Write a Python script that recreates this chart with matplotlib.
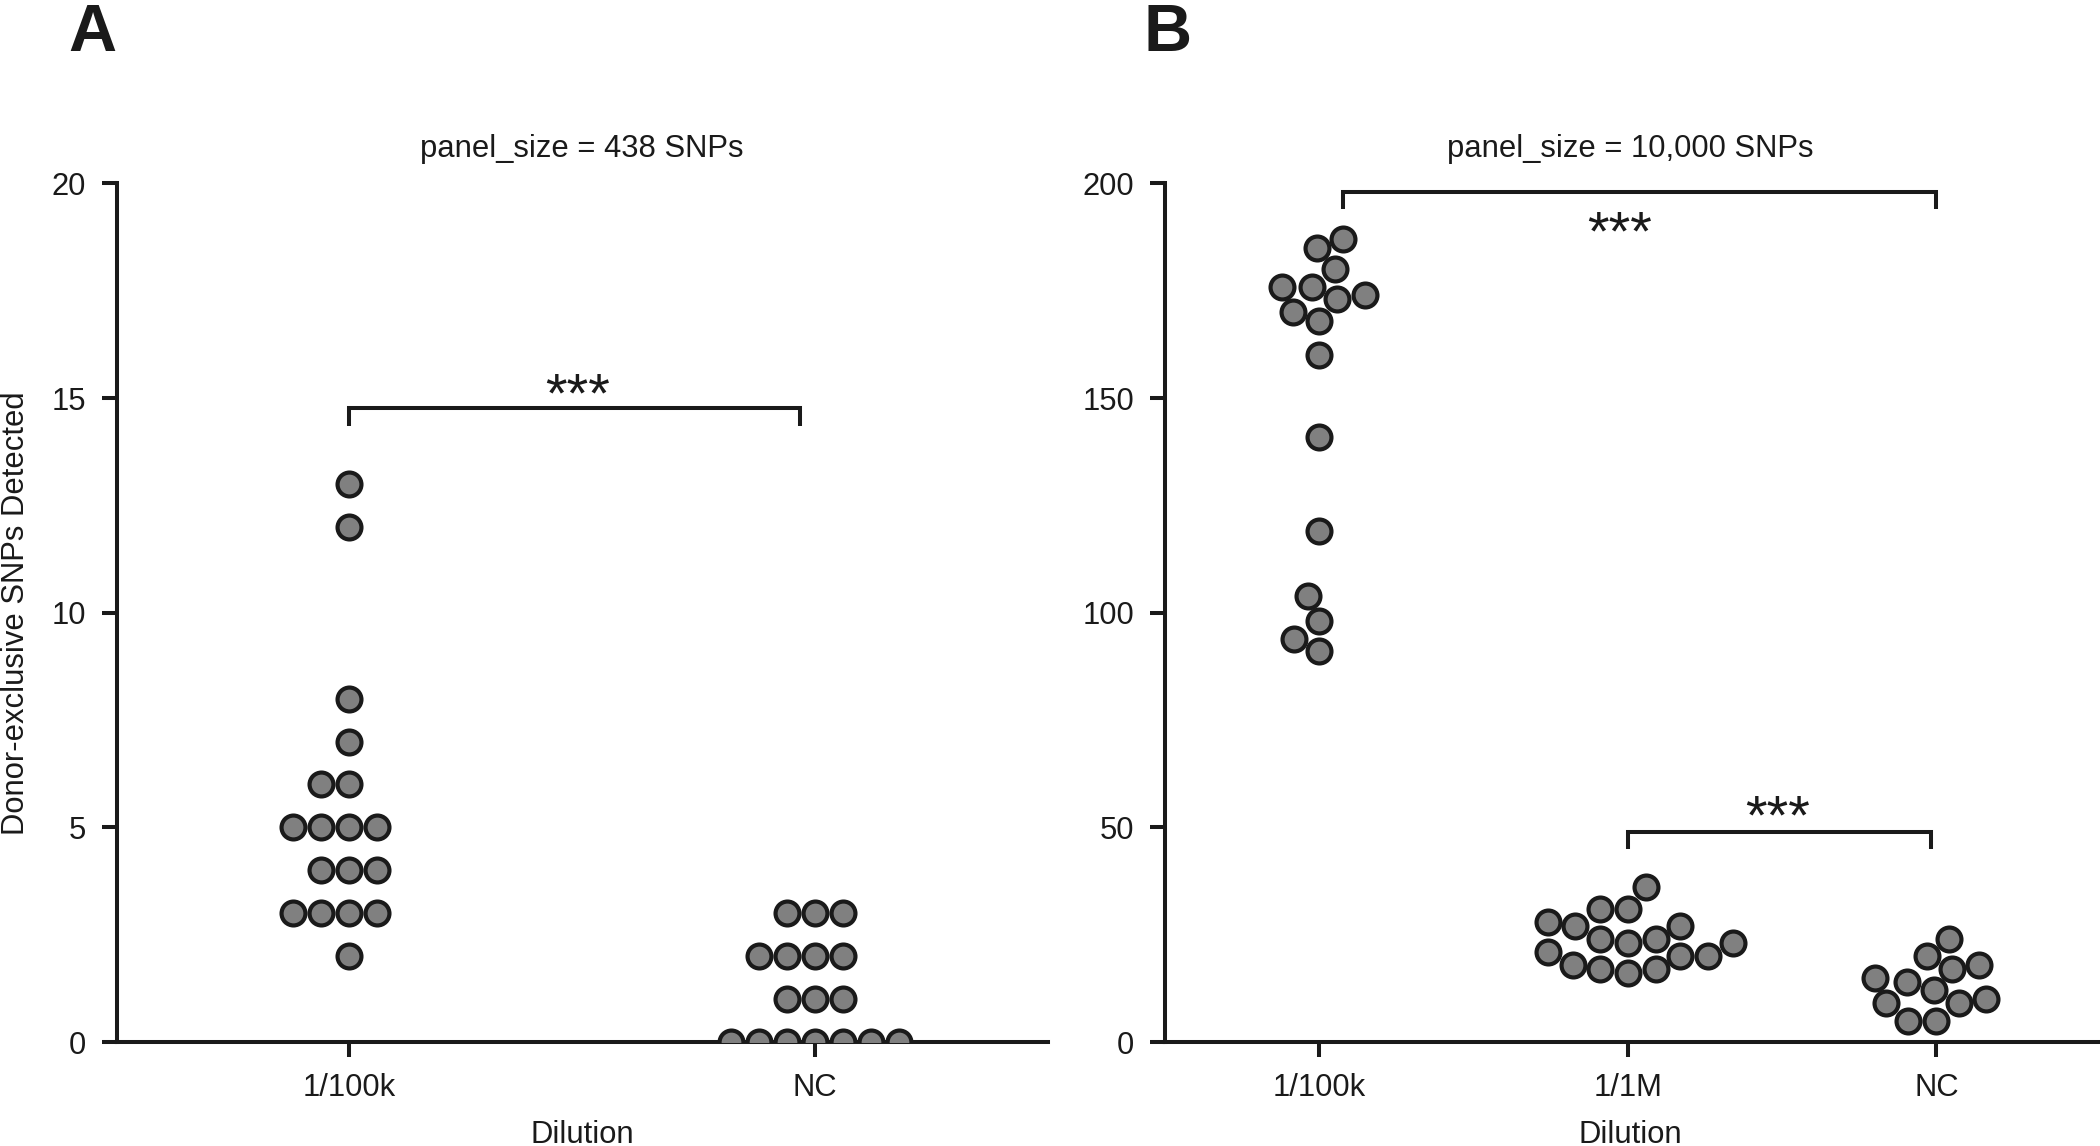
import numpy as np
import matplotlib.pyplot as plt

plt.rcParams['font.family'] = ['Liberation Sans', 'DejaVu Sans']

# Datos panel A (438 SNPs)
dilucionA = ["1/100k", "NC"]
snpsA_100k = [13, 12, 8, 7, 6, 6, 5, 5, 5, 5, 4, 4, 4, 3, 3, 3, 3, 2]
snpsA_nc = [3, 3, 3, 2, 2, 2, 2, 1, 1, 1, 0, 0, 0, 0, 0, 0, 0]

# Datos panel B (10,000 SNPs)
dilucionB = ["1/100k", "1/1M", "NC"]
snpsB_100k = [187, 185, 180, 176, 176, 174, 173, 170, 168, 160, 141, 119, 104, 98, 94, 91]
snpsB_1m = [36, 31, 31, 28, 27, 27, 24, 24, 23, 23, 21, 20, 20, 18, 17, 17, 16]
snpsB_nc = [24, 20, 18, 17, 15, 14, 12, 10, 9, 9, 5, 5]

TXT = '#1a1a1a'
FS = 22.3
DIAM = 28.0  # espaciado del enjambre en pixeles


def swarm_x(ax, pos, values):
    # algoritmo tipo beeswarm "swarm", prioridad ascendente
    vals = np.asarray(values, dtype=float)
    ypx = ax.transData.transform(np.column_stack([np.full(len(vals), pos), vals]))[:, 1] / DIAM
    xunit = ax.transData.transform((pos + 1, 0))[0] - ax.transData.transform((pos, 0))[0]
    order = np.argsort(vals, kind='stable')
    off = np.zeros(len(vals))
    placed = []
    for i in order:
        yi = ypx[i]
        near = [j for j in placed if abs(yi - ypx[j]) < 1]
        if near:
            py = ypx[near]
            po = off[near]
            d = np.sqrt(1 - (yi - py) ** 2)
            cand = np.concatenate([[0.0], po + d, po - d])
            best = None
            for c in cand:
                if np.any((yi - py) ** 2 + (c - po) ** 2 < 0.999):
                    continue
                if best is None or abs(c) < abs(best):
                    best = c
            off[i] = best
        placed.append(i)
    return pos - off * DIAM / xunit


def puntos(ax, pos, values):
    xs = swarm_x(ax, pos, values)
    ax.scatter(xs, values, s=17.2 ** 2, c='#808080', edgecolors='#1a1a1a',
               linewidths=3.0, zorder=3)


def estilo(ax):
    for s in ['top', 'right']:
        ax.spines[s].set_visible(False)
    for s in ['left', 'bottom']:
        ax.spines[s].set_linewidth(2.9)
        ax.spines[s].set_color(TXT)
    ax.tick_params(length=11, width=2.9, pad=11, labelsize=FS, color=TXT, labelcolor=TXT)


def corchete(ax, x1, x2, y, ytip):
    ax.plot([x1, x1, x2, x2], [ytip, y, y, ytip], color=TXT, lw=2.9,
            solid_capstyle='butt', solid_joinstyle='miter', clip_on=False)


fig = plt.figure(figsize=(21, 11.46), dpi=100)
axA = fig.add_axes([0.05548, 0.09075, 0.44357, 0.74913])
axB = fig.add_axes([0.55476, 0.09075, 0.44524, 0.74913])

# Panel A
axA.set_xlim(0.5, 2.5)
axA.set_ylim(0, 20)
axA.set_yticks([0, 5, 10, 15, 20])
axA.set_xticks([1, 2])
axA.set_xticklabels(dilucionA)
estilo(axA)
puntos(axA, 1, snpsA_100k)
puntos(axA, 2, snpsA_nc)
corchete(axA, 1.0, 1.967, 14.77, 14.36)
axA.text(1.49, 14.7, "***", ha='center', va='baseline', fontsize=40, color=TXT)

# Panel B
axB.set_xlim(0.5, 3.53)
axB.set_ylim(0, 200)
axB.set_yticks([0, 50, 100, 150, 200])
axB.set_xticks([1, 2, 3])
axB.set_xticklabels(dilucionB)
estilo(axB)
puntos(axB, 1, snpsB_100k)
puntos(axB, 2, snpsB_1m)
puntos(axB, 3, snpsB_nc)
corchete(axB, 1.077, 3.0, 198.1, 194.0)
axB.text(1.974, 184.6, "***", ha='center', va='baseline', fontsize=40, color=TXT)
corchete(axB, 2.0, 2.982, 48.85, 44.9)
axB.text(2.485, 48.6, "***", ha='center', va='baseline', fontsize=40, color=TXT)

# Titulos y etiquetas
fig.text(582 / 2100, 1 - 157 / 1146, "panel_size = 438 SNPs", ha='center', va='baseline',
         fontsize=FS, color=TXT)
fig.text(1630 / 2100, 1 - 157 / 1146, "panel_size = 10,000 SNPs", ha='center', va='baseline',
         fontsize=FS, color=TXT)
fig.text(582 / 2100, 3 / 1146, "Dilution", ha='center', va='baseline', fontsize=FS, color=TXT)
fig.text(1630 / 2100, 3 / 1146, "Dilution", ha='center', va='baseline', fontsize=FS, color=TXT)
fig.text(0.0005, 0.4653, "Donor-exclusive SNPs Detected", rotation=90, ha='left', va='center',
         fontsize=FS, color=TXT)
fig.text(68 / 2100, 1 - 51 / 1146, "A", ha='left', va='baseline', fontsize=48,
         fontweight='bold', color=TXT)
fig.text(1143 / 2100, 1 - 51 / 1146, "B", ha='left', va='baseline', fontsize=48,
         fontweight='bold', color=TXT)

fig.savefig("out.png", dpi=100)
